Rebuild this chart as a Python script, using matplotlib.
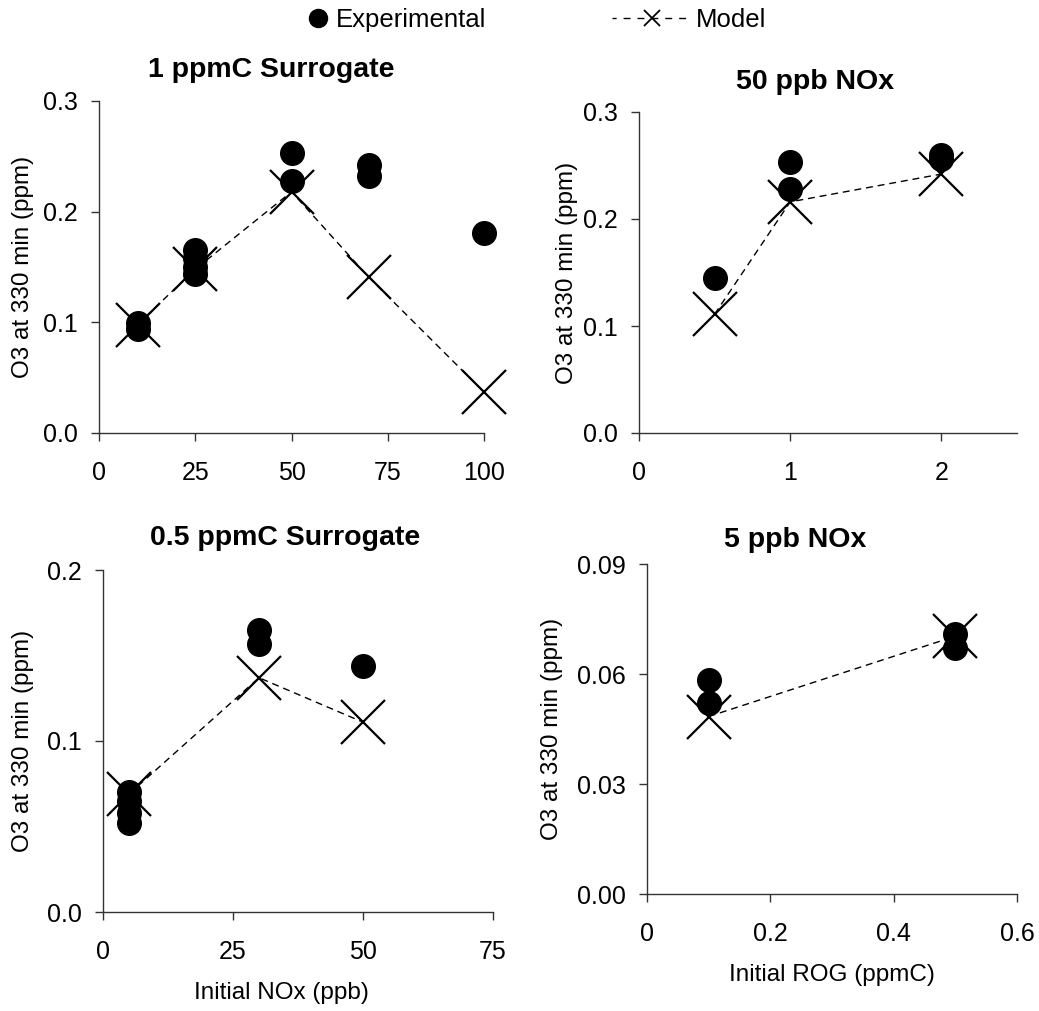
import matplotlib
matplotlib.use("Agg")
import matplotlib.pyplot as plt
from matplotlib.lines import Line2D

plt.rcParams['font.family'] = ['Liberation Sans', 'DejaVu Sans']

# ---- data ----
tl_exp_x = [10, 10, 25, 25, 25, 25, 50, 50, 70, 70, 100]
tl_exp_y = [0.099, 0.094, 0.165, 0.158, 0.150, 0.144, 0.253, 0.228, 0.242, 0.232, 0.181]
tl_mod_x = [10, 25, 50, 70, 100]
tl_mod_y = [0.098, 0.148, 0.218, 0.141, 0.037]

tr_exp_x = [0.5, 1, 1, 2, 2]
tr_exp_y = [0.145, 0.253, 0.228, 0.260, 0.256]
tr_mod_x = [0.5, 1, 2]
tr_mod_y = [0.111, 0.216, 0.242]

bl_exp_x = [5, 5, 5, 5, 30, 30, 50]
bl_exp_y = [0.070, 0.065, 0.058, 0.052, 0.165, 0.157, 0.144]
bl_mod_x = [5, 30, 50]
bl_mod_y = [0.069, 0.137, 0.111]

br_exp_x = [0.1, 0.1, 0.5, 0.5]
br_exp_y = [0.0585, 0.052, 0.071, 0.067]
br_mod_x = [0.1, 0.5]
br_mod_y = [0.0484, 0.0703]

titles = ["1 ppmC Surrogate", "50 ppb NOx", "0.5 ppmC Surrogate", "5 ppb NOx"]
ylabel = "O3 at 330 min (ppm)"
xlabel_bl = "Initial NOx (ppb)"
xlabel_br = "Initial ROG (ppmC)"

W, H = 1039, 1011
fig = plt.figure(figsize=(W / 100, H / 100), dpi=100)

def px_axes(l, r, t, b):
    return fig.add_axes([l / W, 1 - b / H, (r - l) / W, (b - t) / H])

ax_tl = px_axes(99, 484, 101, 433)
ax_tr = px_axes(639, 1017, 112, 433)
ax_bl = px_axes(103, 493, 570, 912)
ax_br = px_axes(647, 1017, 564, 894)

dash = (5, 3.5)

def draw(ax, ex, ey, mx, my, xlim, xticks, ylim, yticks, yfmt, ylab_x):
    ax.plot(mx, my, color='black', lw=1.0, linestyle=(0, dash), marker='x',
            ms=32, mew=1.6, clip_on=False, zorder=2)
    ax.plot(ex, ey, linestyle='none', marker='o', color='black', ms=17,
            clip_on=False, zorder=3)
    ax.set_xlim(*xlim)
    ax.set_ylim(*ylim)
    ax.set_xticks(xticks)
    ax.set_yticks(yticks)
    ax.set_yticklabels([yfmt.format(v) for v in yticks])
    for s in ['top', 'right']:
        ax.spines[s].set_visible(False)
    for s in ['left', 'bottom']:
        ax.spines[s].set_color('#333333')
        ax.spines[s].set_linewidth(1.0)
    ax.tick_params(axis='both', direction='out', length=6, width=1.0,
                   color='#333333', labelsize=18)
    ax.tick_params(axis='x', pad=14)
    ax.tick_params(axis='y', pad=9)
    ax.set_ylabel(ylabel, fontsize=17.5, va='center')
    ax.yaxis.set_label_coords(ylab_x, 0.5)

draw(ax_tl, tl_exp_x, tl_exp_y, tl_mod_x, tl_mod_y, (0, 100), [0, 25, 50, 75, 100],
     (0, 0.3), [0.0, 0.1, 0.2, 0.3], "{:.1f}", -76 / 385)
draw(ax_tr, tr_exp_x, tr_exp_y, tr_mod_x, tr_mod_y, (0, 2.5), [0, 1, 2],
     (0, 0.3), [0.0, 0.1, 0.2, 0.3], "{:.1f}", -72 / 378)
draw(ax_bl, bl_exp_x, bl_exp_y, bl_mod_x, bl_mod_y, (0, 75), [0, 25, 50, 75],
     (0, 0.2), [0.0, 0.1, 0.2], "{:.1f}", -80 / 390)
draw(ax_br, br_exp_x, br_exp_y, br_mod_x, br_mod_y, (0, 0.6), [0, 0.2, 0.4, 0.6],
     (0, 0.09), [0.0, 0.03, 0.06, 0.09], "{:.2f}", -95 / 370)

ax_br.set_xticklabels(["0", "0.2", "0.4", "0.6"])

ax_bl.set_xlabel(xlabel_bl, fontsize=17.5, va='center')
ax_bl.xaxis.set_label_coords((281 - 103) / 390, -(993 - 912) / 342)
ax_br.set_xlabel(xlabel_br, fontsize=17.5, va='center')
ax_br.xaxis.set_label_coords((832 - 647) / 370, -(975 - 894) / 330)

# titles (centered on chart area, not plot area)
title_pos = [(271, 77), (815, 89), (285, 545), (795, 547)]
for t, (x, y) in zip(titles, title_pos):
    fig.text(x / W, 1 - y / H, t, fontsize=20.5, fontweight='bold',
             ha='center', va='baseline')

# legends
h_exp = Line2D([], [], linestyle='none', marker='o', color='black', ms=13)
h_mod = Line2D([], [], color='black', lw=1.0, linestyle=(2, (5, 5)), marker='x',
               ms=11, mew=1.3)
fig.legend([h_exp], ["Experimental"], loc='center left',
           bbox_to_anchor=(308 / W, 1 - 20 / H), frameon=False, fontsize=18.5,
           handlelength=0.8, handletextpad=0.3, borderpad=0, borderaxespad=0)
fig.legend([h_mod], ["Model"], loc='center left',
           bbox_to_anchor=(612 / W, 1 - 20 / H), frameon=False, fontsize=18.5,
           handlelength=3.1, handletextpad=0.15, borderpad=0, borderaxespad=0)

fig.savefig("out.png", dpi=100)
